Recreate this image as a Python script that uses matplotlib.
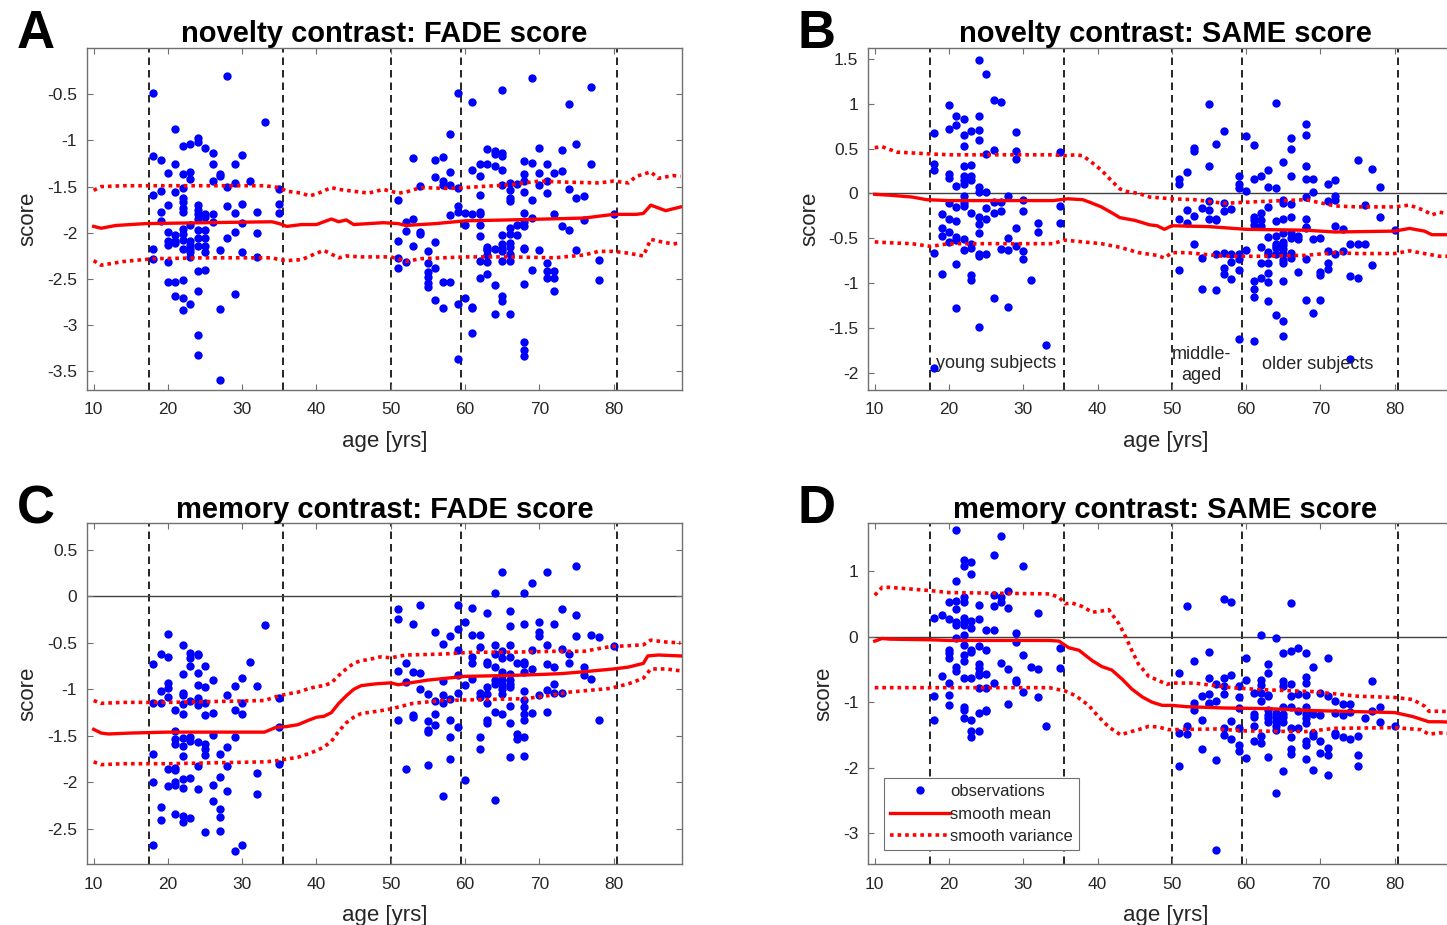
import matplotlib
matplotlib.use("Agg")
import matplotlib.pyplot as plt
import numpy as np
from matplotlib.ticker import FuncFormatter, MultipleLocator

plt.rcParams['font.family'] = ['Liberation Sans', 'DejaVu Sans']

# observations: age -> list of scores
A_obs = {
    18: [-0.49, -1.17, -1.59, -2.17, -2.28],
    19: [-1.21, -1.55, -1.77, -1.87],
    20: [-1.35, -1.70, -1.99, -2.09, -2.13, -2.31, -2.53],
    21: [-0.88, -1.26, -1.56, -2.02, -2.09, -2.11, -2.53, -2.68],
    22: [-1.06, -1.36, -1.52, -1.62, -1.67, -1.73, -1.77, -1.96, -2.01, -2.08, -2.17, -2.51, -2.71, -2.83],
    23: [-1.04, -1.34, -1.42, -1.91, -2.09, -2.13, -2.17, -2.21, -2.26, -2.77],
    24: [-0.97, -1.02, -1.70, -1.75, -1.80, -1.85, -1.97, -2.06, -2.14, -2.41, -2.63, -3.11, -3.32],
    25: [-1.08, -1.80, -1.83, -1.97, -2.06, -2.14, -2.21, -2.40],
    26: [-1.14, -1.25, -1.44, -1.80, -1.88],
    27: [-1.36, -1.39, -2.19, -2.82, -3.59],
    28: [-0.30, -1.50, -1.71, -2.06],
    29: [-1.26, -1.46, -1.78, -1.99, -2.66],
    30: [-1.16, -1.69, -1.89, -2.21],
    31: [-1.44],
    32: [-1.77, -2.00, -2.26],
    33: [-0.80],
    35: [-1.53, -1.69, -1.79],
    51: [-1.64, -2.09, -2.27, -2.38],
    52: [-1.88, -1.98, -2.31],
    53: [-1.19, -1.85, -2.14],
    54: [-1.49, -1.99, -2.01],
    55: [-2.20, -2.33, -2.42, -2.48, -2.54, -2.59],
    56: [-1.21, -1.40, -2.10, -2.38, -2.73],
    57: [-1.18, -1.44, -1.48, -2.53, -2.81],
    58: [-0.93, -1.34, -1.48, -1.81, -2.53],
    59: [-0.49, -1.52, -1.71, -1.77, -2.77, -3.36],
    60: [-1.78, -1.92, -2.70],
    61: [-0.58, -1.32, -1.80, -2.80, -2.81, -3.08],
    62: [-1.25, -1.39, -1.59, -1.77, -1.80, -1.91, -2.03, -2.30, -2.49],
    63: [-1.09, -1.25, -2.15, -2.17, -2.19, -2.24, -2.31, -2.44],
    64: [-1.11, -1.15, -1.28, -2.17, -2.56, -2.88],
    65: [-0.45, -1.14, -1.17, -1.32, -1.48, -2.02, -2.12, -2.18, -2.20, -2.30, -2.68, -2.74],
    66: [-1.46, -1.54, -1.62, -1.65, -1.95, -2.01, -2.11, -2.15, -2.23, -2.30, -2.88],
    67: [-1.47, -1.92, -2.02],
    68: [-1.22, -1.36, -1.44, -1.56, -1.79, -1.88, -1.93, -2.16, -2.18, -2.55, -3.18, -3.27, -3.33],
    69: [-0.32, -1.24, -1.64, -1.84, -2.40],
    70: [-1.08, -1.35, -1.48, -2.19],
    71: [-1.25, -1.44, -1.57, -2.33, -2.41, -2.49],
    72: [-1.35, -1.80, -2.41, -2.49, -2.63],
    73: [-1.10, -1.33, -1.93],
    74: [-0.61, -1.53, -1.97],
    75: [-1.04, -1.62, -2.19],
    76: [-1.60, -1.86],
    77: [-0.42, -1.26],
    78: [-2.29, -2.51],
    80: [-1.80],
}

B_obs = {
    18: [0.67, 0.33, 0.26, -0.66, -1.94],
    19: [-0.23, -0.39, -0.48, -0.90],
    20: [0.99, 0.72, 0.22, 0.17, -0.11, -0.29, -0.43, -0.54],
    21: [0.86, 0.76, 0.08, -0.15, -0.31, -0.49, -0.52, -0.79, -1.28],
    22: [0.83, 0.65, 0.53, 0.31, 0.19, 0.15, 0.10, -0.03, -0.11, -0.14, -0.51, -0.63],
    23: [0.69, 0.32, 0.19, 0.15, -0.22, -0.56, -0.61, -0.91, -0.97],
    24: [1.49, 0.86, 0.71, 0.60, 0.07, 0.02, -0.26, -0.34, -0.44, -0.68, -0.70, -1.49],
    25: [1.33, 0.44, 0.02, -0.16, -0.28, -0.68],
    26: [1.04, 0.48, -0.10, -0.22, -1.16],
    27: [1.02, -0.10, -0.20, -0.62],
    28: [-0.03, -0.50, -0.63, -1.27],
    29: [0.68, 0.47, 0.38, -0.39, -0.59],
    30: [-0.07, -0.20, -0.64, -0.73],
    31: [-0.96],
    32: [-0.33, -0.43],
    33: [-1.69],
    35: [0.46, -0.14, -0.33],
    51: [0.16, 0.11, -0.28, -0.85],
    52: [0.24, -0.18, -0.33],
    53: [0.51, 0.47, -0.25, -0.56],
    54: [-0.16, -0.72, -1.06],
    55: [1.00, 0.31, -0.09, -0.18, -0.28],
    56: [0.55, -0.28, -0.30, -0.67, -1.08],
    57: [0.69, -0.11, -0.20, -0.66, -0.83, -0.90],
    58: [-0.17, -0.67, -0.76, -0.95],
    59: [0.19, 0.11, 0.06, -0.67, -0.73, -0.85, -1.62],
    60: [0.64, 0.03, -0.63],
    61: [0.54, 0.16, -0.26, -0.30, -0.35, -0.98, -1.07, -1.15, -1.64],
    62: [0.19, -0.22, -0.30, -0.36, -0.60, -0.77, -0.94],
    63: [0.26, 0.07, -0.15, -0.49, -0.65, -0.68, -0.77, -0.89, -0.99, -1.20],
    64: [1.01, 0.06, -0.31, -0.47, -0.56, -0.59, -0.61, -0.67, -1.36],
    65: [0.35, -0.07, -0.11, -0.28, -0.44, -0.54, -0.57, -0.62, -0.67, -0.74, -0.77, -0.98, -1.42, -1.59],
    66: [0.62, 0.49, 0.19, -0.12, -0.26, -0.44, -0.50, -0.66, -0.72],
    67: [-0.48, -0.51, -0.87],
    68: [0.77, 0.65, 0.31, 0.16, -0.04, -0.28, -0.37, -0.39, -0.73, -1.19],
    69: [0.16, 0.02, -0.51, -1.33],
    70: [-0.50, -0.88, -0.91, -1.19],
    71: [0.10, -0.09, -0.64, -0.78, -0.84],
    72: [0.15, -0.03, -0.07, -0.36, -0.67],
    73: [-0.40, -0.64],
    74: [-0.56, -0.92, -1.84],
    75: [0.37, -0.56, -0.94],
    76: [-0.13, -0.56],
    77: [0.27, -0.80],
    78: [0.07, -0.26],
    80: [-0.41],
}

C_obs = {
    18: [-0.73, -1.15, -1.70, -2.00, -2.67],
    19: [-0.62, -1.02, -1.15, -2.27, -2.41],
    20: [-0.40, -0.65, -0.93, -0.99, -1.08, -1.86, -2.04],
    21: [-1.22, -1.45, -1.53, -1.59, -1.85, -1.87, -2.00, -2.03, -2.34],
    22: [-0.52, -0.83, -1.04, -1.06, -1.16, -1.27, -1.52, -1.61, -1.72, -1.96, -2.06, -2.36, -2.43],
    23: [-0.61, -0.66, -0.75, -1.12, -1.51, -1.56, -1.95, -2.38],
    24: [-0.62, -0.63, -0.82, -0.95, -1.09, -1.12, -1.17, -1.57, -1.83, -2.07],
    25: [-0.75, -0.97, -1.15, -1.28, -1.59, -1.64, -1.71, -2.54],
    26: [-0.90, -1.25, -1.49, -2.03, -2.20],
    27: [-1.70, -1.94, -2.29, -2.37, -2.52],
    28: [-1.06, -1.62, -1.82, -2.09],
    29: [-0.96, -1.22, -1.51, -2.74],
    30: [-0.88, -1.15, -1.27, -2.67],
    31: [-0.71],
    32: [-0.96, -1.90, -2.13],
    33: [-0.31],
    35: [-1.09, -1.40, -1.80],
    51: [-0.13, -0.24, -0.80, -1.33],
    52: [-0.72, -0.92, -1.86],
    53: [-0.30, -0.81, -1.28, -1.30],
    54: [-0.09, -0.82, -1.00],
    55: [-1.05, -1.34, -1.44, -1.46, -1.81],
    56: [-0.38, -1.12, -1.27, -1.38],
    57: [-0.51, -0.91, -1.06, -1.15, -2.15],
    58: [-0.43, -1.10, -1.33, -1.51, -1.75],
    59: [-0.09, -0.35, -0.58, -0.85, -1.04, -1.41],
    60: [-0.28, -0.95, -1.97],
    61: [-0.12, -0.41, -0.65, -0.72, -0.89],
    62: [-0.41, -0.54, -1.04, -1.08, -1.51, -1.64],
    63: [-0.18, -0.70, -0.73, -0.97, -1.05, -1.15, -1.33, -1.36],
    64: [0.04, -0.52, -0.62, -0.76, -0.90, -0.94, -1.24, -2.19],
    65: [0.26, -0.59, -0.66, -0.81, -0.85, -0.90, -0.95, -1.00, -1.05, -1.26],
    66: [-0.16, -0.32, -0.52, -0.65, -0.83, -0.90, -0.94, -0.97, -1.18, -1.36, -1.73],
    67: [-0.72, -1.48, -1.53],
    68: [0.04, -0.30, -0.71, -0.73, -0.81, -1.02, -1.11, -1.19, -1.26, -1.33, -1.51, -1.72],
    69: [0.14, -0.58, -0.78, -1.25],
    70: [-0.27, -0.38, -0.42, -1.06],
    71: [0.26, -0.52, -0.73, -1.01, -1.24],
    72: [-0.30, -0.76, -0.94, -1.04],
    73: [-0.13, -0.56, -1.04],
    74: [-0.62, -0.72],
    75: [0.33, -0.20, -0.42],
    76: [-0.76, -0.85],
    77: [-0.41, -0.89],
    78: [-0.44, -1.33],
    80: [-0.53],
}

D_obs = {
    18: [0.29, -0.91, -1.28],
    19: [0.33, -0.60],
    20: [0.52, 0.27, -0.20, -0.25, -0.33, -0.71, -0.89, -1.05],
    21: [1.62, 0.85, 0.54, 0.42, 0.22, 0.18, -0.02, -0.46, -0.52],
    22: [1.17, 1.08, 0.61, 0.52, 0.28, 0.22, 0.18, 0.02, -0.13, -0.28, -0.38, -0.64, -1.07, -1.12, -1.24],
    23: [1.14, 0.95, 0.23, 0.13, -0.20, -0.23, -0.64, -1.27, -1.44, -1.54],
    24: [0.48, 0.27, -0.15, -0.42, -0.48, -0.56, -0.58, -0.79, -1.17, -1.44],
    25: [0.10, -0.20, -0.57, -0.79, -1.12, -1.14],
    26: [1.25, 0.64, 0.46, 0.10, -0.71],
    27: [1.54, 0.61, 0.53, -0.40],
    28: [0.70, 0.43, -0.49, -1.03],
    29: [0.05, -0.09, -0.66, -0.70],
    30: [1.08, -0.28, -0.85],
    31: [-0.47],
    32: [0.36, -0.49, -0.93],
    33: [-1.36],
    35: [-0.18, -0.48],
    51: [-0.55, -1.47, -1.98],
    52: [0.47, -1.36, -1.48],
    53: [-0.38, -1.02, -1.12],
    54: [-0.90, -1.27, -1.72],
    55: [-0.24, -0.64, -0.88, -1.01, -1.03],
    56: [-0.72, -0.98, -1.88, -3.26],
    57: [0.57, -0.64, -0.75, -0.88, -1.40, -1.50],
    58: [0.52, -0.59, -1.29, -1.56],
    59: [-0.75, -0.93, -1.09, -1.40, -1.65, -1.75],
    60: [-0.32, -0.66, -1.86],
    61: [-0.86, -1.18, -1.23, -1.36, -1.60],
    62: [0.02, -0.66, -0.74, -0.86, -0.98, -1.52, -1.62],
    63: [-0.42, -0.56, -0.89, -0.91, -1.12, -1.19, -1.25, -1.30, -1.84],
    64: [-0.02, -1.17, -1.23, -1.29, -1.37, -1.42, -2.39],
    65: [-0.25, -0.68, -0.76, -1.07, -1.18, -1.23, -1.30, -2.05],
    66: [0.51, -0.22, -0.73, -0.91, -1.07, -1.39, -1.54, -1.71, -1.79],
    67: [-0.17, -0.88, -1.14, -1.39],
    68: [-0.25, -0.62, -0.71, -0.89, -1.07, -1.18, -1.25, -1.32, -1.59, -1.65, -1.87],
    69: [-0.46, -1.18, -1.47, -1.51, -2.04],
    70: [-0.86, -1.19, -1.59, -1.78],
    71: [-0.33, -0.91, -1.70, -1.80, -2.11],
    72: [-0.99, -1.17, -1.47, -1.50],
    73: [-1.03, -1.19, -1.54],
    74: [-1.03, -1.15, -1.57],
    75: [-1.52, -1.81, -1.97],
    76: [-1.25],
    77: [-0.68, -1.14],
    78: [-1.08, -1.30],
    80: [-1.36],
}

# smoothed mean and mean +/- sd, read along age
A_mean_age = [10, 11, 13, 17, 25, 34, 35, 36, 38, 40, 42, 43, 44, 45, 47, 49, 51, 52, 56, 60,
              66, 71, 76, 80, 83, 84, 85, 87, 89]
A_mean = [-1.93, -1.95, -1.92, -1.90, -1.89, -1.88, -1.90, -1.93, -1.91, -1.91, -1.85, -1.88,
          -1.86, -1.91, -1.90, -1.89, -1.90, -1.92, -1.90, -1.87, -1.86, -1.85, -1.84, -1.80,
          -1.80, -1.79, -1.70, -1.76, -1.72]
A_up_age = [10, 11, 14, 20, 33, 35, 36, 38, 39, 40, 42, 43, 45, 47, 49, 51, 52, 54, 58, 62,
            66, 70, 73, 78, 80, 82, 83, 85, 86, 88, 89]
A_up = [-1.54, -1.50, -1.49, -1.49, -1.49, -1.51, -1.55, -1.57, -1.60, -1.58, -1.51, -1.53,
        -1.55, -1.57, -1.53, -1.57, -1.56, -1.51, -1.52, -1.50, -1.48, -1.44, -1.45, -1.46,
        -1.44, -1.46, -1.39, -1.34, -1.41, -1.38, -1.39]
A_lo_age = [10, 11, 14, 18, 25, 34, 35, 36, 38, 40, 41, 42, 43, 44, 46, 50, 51, 52, 54, 60,
            66, 72, 76, 78, 80, 82, 84, 85, 86, 88, 89]
A_lo = [-2.30, -2.35, -2.31, -2.28, -2.27, -2.27, -2.29, -2.30, -2.29, -2.22, -2.19, -2.23,
        -2.27, -2.25, -2.26, -2.26, -2.28, -2.31, -2.28, -2.26, -2.26, -2.27, -2.24, -2.20,
        -2.20, -2.22, -2.25, -2.07, -2.09, -2.12, -2.11]

B_mean_age = [10, 12, 15, 17, 20, 34, 35, 36, 38, 39, 40.5, 42, 43, 45, 47, 48, 49, 50, 55, 60,
              68, 72, 80, 82, 84, 85, 87, 89]
B_mean = [-0.01, -0.02, -0.04, -0.07, -0.08, -0.08, -0.07, -0.06, -0.07, -0.10, -0.15, -0.22,
          -0.27, -0.30, -0.35, -0.36, -0.40, -0.36, -0.37, -0.40, -0.41, -0.43, -0.42, -0.39,
          -0.42, -0.46, -0.46, -0.47]
B_up_age = [10, 11, 13, 17.5, 20, 34, 35.5, 37, 38, 39, 40.5, 42, 43, 44, 45.5, 47, 50, 53, 57,
            62, 68, 72, 75, 80, 82, 84, 85, 86, 89]
B_up = [0.51, 0.52, 0.46, 0.44, 0.43, 0.43, 0.42, 0.43, 0.42, 0.36, 0.26, 0.13, 0.05, 0.02, 0.0,
        -0.04, -0.06, -0.07, -0.11, -0.09, -0.07, -0.14, -0.15, -0.15, -0.13, -0.19, -0.24,
        -0.21, -0.24]
B_lo_age = [10, 12, 15, 17.5, 20, 34, 35.5, 38, 40.5, 43, 45.5, 48, 49, 50, 52, 57, 62, 68, 72,
            75, 80, 82, 84, 86, 89]
B_lo = [-0.54, -0.55, -0.56, -0.59, -0.56, -0.56, -0.52, -0.54, -0.56, -0.60, -0.66, -0.69,
        -0.72, -0.66, -0.66, -0.70, -0.70, -0.69, -0.66, -0.67, -0.67, -0.64, -0.67, -0.70, -0.70]

C_mean_age = [10, 11, 12, 15, 20, 33, 34.5, 36, 37.5, 39, 40, 41, 42, 43, 44, 45, 46, 48, 50, 51,
              55, 60, 66, 70, 73, 76, 80, 82, 84, 84.6, 86, 89]
C_mean = [-1.43, -1.47, -1.48, -1.47, -1.46, -1.46, -1.41, -1.40, -1.38, -1.33, -1.30, -1.29,
          -1.25, -1.15, -1.07, -1.00, -0.96, -0.94, -0.93, -0.95, -0.90, -0.86, -0.85, -0.84,
          -0.83, -0.81, -0.78, -0.76, -0.72, -0.64, -0.63, -0.64]
C_up_age = [10, 11, 14, 20, 33, 34.5, 36, 37.5, 39, 40, 41, 42, 43, 44, 45, 46, 47, 48.6, 50, 52,
            57, 61, 66, 72, 76, 79.5, 82, 84, 85, 87, 89]
C_up = [-1.12, -1.15, -1.14, -1.14, -1.12, -1.08, -1.05, -1.03, -0.99, -0.97, -0.96, -0.93,
        -0.85, -0.78, -0.72, -0.69, -0.68, -0.65, -0.66, -0.63, -0.62, -0.60, -0.60, -0.59,
        -0.59, -0.54, -0.53, -0.52, -0.47, -0.49, -0.50]
C_lo_age = [10, 11, 14, 20, 33, 34.5, 36, 37.5, 39, 40, 41, 42, 43, 44, 45, 46, 48.6, 50, 53, 57,
            62, 68, 71, 74, 79.5, 82, 84, 85, 87, 89]
C_lo = [-1.78, -1.81, -1.80, -1.80, -1.78, -1.77, -1.75, -1.73, -1.69, -1.66, -1.62, -1.56,
        -1.45, -1.36, -1.30, -1.26, -1.23, -1.21, -1.15, -1.12, -1.11, -1.10, -1.07, -1.03,
        -0.99, -0.94, -0.88, -0.78, -0.78, -0.80]

D_mean_age = [10, 11, 12, 17.5, 20, 33.5, 34.8, 36.1, 37.5, 39.3, 40.6, 41.9, 43.3, 44.6, 46,
              47.3, 48.7, 50, 52, 57, 63, 69, 73, 80, 82.4, 84.6, 86, 89]
D_mean = [-0.07, -0.03, -0.04, -0.05, -0.06, -0.06, -0.07, -0.17, -0.21, -0.37, -0.46, -0.51,
          -0.65, -0.80, -0.92, -1.00, -1.05, -1.05, -1.07, -1.09, -1.10, -1.13, -1.14, -1.16,
          -1.22, -1.30, -1.30, -1.31]
D_up_age = [10, 11, 12, 17.5, 20, 33.5, 34.8, 35.6, 36.6, 37.9, 39.3, 40.6, 41.5, 42.9, 43.8,
            44.6, 45.5, 46.9, 48.2, 49.3, 50, 53, 58, 62, 69, 75, 80, 82.4, 84, 84.6, 86, 89]
D_up = [0.63, 0.75, 0.75, 0.70, 0.67, 0.65, 0.60, 0.50, 0.51, 0.46, 0.37, 0.39, 0.41, 0.19,
        -0.01, -0.21, -0.42, -0.61, -0.67, -0.73, -0.71, -0.71, -0.78, -0.81, -0.84, -0.91,
        -0.93, -0.96, -1.06, -1.14, -1.14, -1.15]
D_lo_age = [10, 12, 20, 33.5, 35.6, 37, 38.8, 40.1, 41.5, 43.1, 44.2, 45.5, 46.9, 48.2, 49.5,
            50, 56, 60, 68, 72, 80, 83.5, 84.6, 86, 89]
D_lo = [-0.78, -0.78, -0.78, -0.78, -0.83, -0.90, -1.05, -1.22, -1.38, -1.50, -1.46, -1.42,
        -1.37, -1.38, -1.42, -1.42, -1.41, -1.44, -1.45, -1.40, -1.39, -1.42, -1.49, -1.47, -1.48]

group_bounds = [17.5, 35.5, 50, 59.5, 80.5]

panels = [
    ("A", "novelty contrast: FADE score", A_obs, (A_mean_age, A_mean), (A_up_age, A_up),
     (A_lo_age, A_lo), (-3.7, 0.0), np.arange(-3.5, -0.4, 0.5),
     [0.0601, 0.5784, 0.4112, 0.3697]),
    ("B", "novelty contrast: SAME score", B_obs, (B_mean_age, B_mean), (B_up_age, B_up),
     (B_lo_age, B_lo), (-2.19, 1.62), np.arange(-2.0, 1.6, 0.5),
     [0.5999, 0.5784, 0.4112, 0.3697]),
    ("C", "memory contrast: FADE score", C_obs, (C_mean_age, C_mean), (C_up_age, C_up),
     (C_lo_age, C_lo), (-2.88, 0.79), np.arange(-2.5, 0.6, 0.5),
     [0.0601, 0.0659, 0.4112, 0.3686]),
    ("D", "memory contrast: SAME score", D_obs, (D_mean_age, D_mean), (D_up_age, D_up),
     (D_lo_age, D_lo), (-3.47, 1.73), np.arange(-3, 2, 1),
     [0.5999, 0.0659, 0.4112, 0.3686]),
]

fig = plt.figure(figsize=(14.47, 9.25), dpi=100)
frame_col = '#707070'
text_col = '#262626'
fmt = FuncFormatter(lambda v, p: '%g' % round(v, 3))

axes = {}
for letter, title, obs, mean, up, lo, ylim, yticks, rect in panels:
    ax = fig.add_axes(rect)
    axes[letter] = ax
    ages = [a for a in obs for _ in obs[a]]
    scores = [s for a in obs for s in obs[a]]

    for b in group_bounds:
        ax.axvline(b, color='black', lw=1.2, ls=(0, (4.5, 3)), zorder=1)
    if ylim[1] > 0.05:
        ax.axhline(0, color='#404040', lw=1.0, zorder=1)

    ax.plot(ages, scores, 'o', color='#0000ff', ms=6, mec='none', zorder=2,
            label='observations')
    ax.plot(mean[0], mean[1], '-', color='#ff0000', lw=2.4, zorder=3, label='smooth mean')
    ax.plot(up[0], up[1], color='#ff0000', lw=2.6, ls=(0, (1, 1.1)), zorder=3,
            label='smooth variance')
    ax.plot(lo[0], lo[1], color='#ff0000', lw=2.6, ls=(0, (1, 1.1)), zorder=3)

    ax.set_xlim(9.1, 89.2)
    ax.set_ylim(*ylim)
    ax.xaxis.set_major_locator(MultipleLocator(10))
    ax.set_yticks(yticks)
    ax.yaxis.set_major_formatter(fmt)
    ax.tick_params(direction='in', top=True, right=True, length=4, width=0.8,
                   color=frame_col, labelcolor=text_col, labelsize=12.5)
    ax.tick_params(axis='x', pad=9)
    ax.tick_params(axis='y', pad=7)
    for s in ax.spines.values():
        s.set_color(frame_col)
        s.set_linewidth(1.0)
    ax.set_xlabel('age [yrs]', fontsize=16, color=text_col, labelpad=10)
    ax.set_ylabel('score', fontsize=16, color=text_col, labelpad=6)
    ax.set_title(title, fontsize=21, fontweight='bold', color='black', pad=4)

    x0 = rect[0] - 0.0485
    y0 = rect[1] + rect[3] + 0.0
    fig.text(x0, y0, letter, fontsize=38, fontweight='bold', ha='left', va='baseline')

axB = axes["B"]
axB.text(26.3, -1.9, 'young subjects', fontsize=13, color=text_col, ha='center', va='center')
axB.text(54.0, -1.91, 'middle-\naged', fontsize=13, color=text_col, ha='center', va='center',
         linespacing=1.35)
axB.text(69.6, -1.91, 'older subjects', fontsize=13, color=text_col, ha='center', va='center')

leg = axes["D"].legend(loc='lower left', bbox_to_anchor=(0.027, 0.041), borderaxespad=0,
                       fontsize=12, handlelength=3.6, handletextpad=0.0, labelspacing=0.45,
                       borderpad=0.35, fancybox=False, framealpha=1, edgecolor=frame_col,
                       labelcolor=text_col)
leg.get_frame().set_linewidth(0.8)

fig.savefig('out.png', dpi=100)
